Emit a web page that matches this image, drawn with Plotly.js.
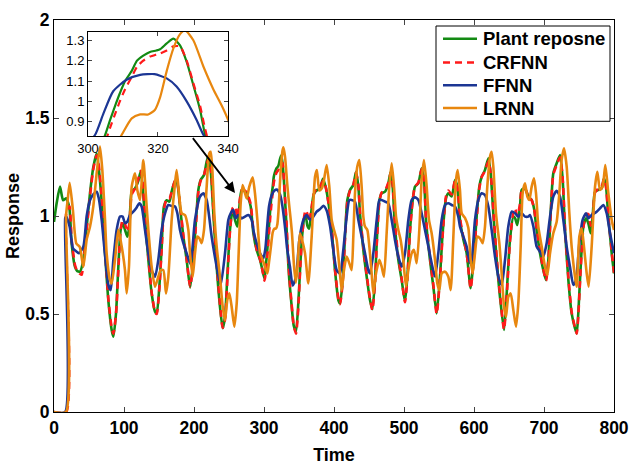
<!DOCTYPE html>
<html><head><meta charset="utf-8">
<script src="https://cdn.plot.ly/plotly-3.0.1.min.js"></script>
<style>html,body{margin:0;padding:0;background:#fff}#chart{width:633px;height:465px}</style>
</head><body><div id="chart"></div>
<script>
// Plant response (green)
const G_T = [0,4,8.6,13,17.6,22,25.2,30,33,37,41.9,46.7,51.4,56.2,61,64,68,72.9,77.6,82.4,84.8,88.6,91.9,95.2,98,101.4,104.8,107.6,111,115.7,120.5,123.8,126.7,130,134.8,139.5,144.3,146.7,150.5,153.8,157,161,164.8,168,172.9,176,180,184.8,189.5,194.5,199,202.9,206.2,209.5,214.3,218,220.5,223.8,227.6,232.4,237.1,241,244.3,247.6,251.4,255.2,258.6,261.9,265.7,268.1,272.9,277.6,281,284.8,289.5,294.3,298,300.8,303,304.9,306.3,308,309.1,310.6,312.5,314,315.8,317.7,319.5,320.6,322.5,324.4,326.3,328.2,330.1,332,333.4,336,339.5,342.5,345.7,349,352,354.5,357.5,359.5,362,364.5,367.5,371,375,380,384.2,388,392,396.7,401.4,406.2,408.6,412.4,415.7,419,422.9,427.6,431.4,434.8,437.1,441.9,446.7,451.4,454.8,458.6,461,464.8,468.1,472.9,477.6,481,483.8,487.1,491.9,496.7,501.4,504.8,508.6,512.4,515.7,520.5,525.2,528.6,531.4,537.1,541.9,546.7,551.4,555.2,560,563.3,568.1,572.9,576.2,580,584.8,589.5,595.2,599,603.8,607.6,611,615.7,620.5,623.8,627.6,632.4,637.1,642.9,646.7,651.4,656.2,658.6,661.9,665.7,668.1,672.9,677.6,682.4,685.7,689.5,694.3,699,702.9,706.2,709.5,713.3,718.1,722.9,726.7,730,734.8,739.5,744.3,746.7,749,752.4,756.2,760,763.3,766.7,769.5,772.9,777.6,782.4,785.7,788.6,791.9,796.7,800];
const G_V = [0.97,1.07,1.15,1.08,1.09,1.04,0.86,0.74,0.72,0.716,0.776,0.945,1.116,1.25,1.32,1.24,1.08,0.81,0.571,0.418,0.384,0.503,0.741,0.929,0.963,0.93,0.895,0.945,1.124,1.14,1.18,1.226,1.15,0.98,0.776,0.605,0.512,0.503,0.64,0.84,1.048,1.08,1.073,1.124,1.18,1.167,1.048,0.895,0.776,0.635,0.776,0.98,1.133,1.184,1.209,1.277,1.306,1.235,1.014,0.741,0.537,0.427,0.486,0.69,0.929,1.031,0.98,0.946,1.082,1.133,1.124,1.09,1.048,0.912,0.827,0.776,0.72,0.68,0.76,0.835,0.908,0.99,1.04,1.1,1.15,1.2,1.225,1.243,1.25,1.256,1.285,1.308,1.275,1.194,1.08,0.96,0.84,0.68,0.54,0.44,0.41,0.554,0.76,0.9,0.99,1.0,0.95,0.935,1.02,1.11,1.13,1.14,1.19,1.15,1.07,0.93,0.724,0.571,0.554,0.673,0.895,1.08,1.133,1.158,1.226,1.15,1.014,0.827,0.69,0.571,0.524,0.673,0.86,1.08,1.116,1.124,1.167,1.226,1.15,0.946,0.776,0.673,0.563,0.69,0.929,1.08,1.15,1.167,1.243,1.184,0.98,0.776,0.64,0.503,0.69,0.912,1.09,1.116,1.1,1.184,1.15,0.98,0.88,0.81,0.631,0.758,0.997,1.15,1.2,1.235,1.294,1.218,1.014,0.776,0.588,0.418,0.605,0.878,0.997,0.99,0.954,1.048,1.133,1.141,1.099,1.082,1.039,0.929,0.81,0.724,0.673,0.776,1.014,1.218,1.269,1.311,1.184,0.929,0.673,0.503,0.427,0.401,0.503,0.741,0.946,0.988,0.963,0.912,0.997,1.124,1.133,1.141,1.192,1.15,0.997,0.81,0.707];

// CRFNN (red dashed)
const R_T = [0,17.4,17.6,22,25.2,30,33,37,39.5,41.9,46.7,51.4,56.2,61,64,68,72.9,77.6,82.4,84.8,88.6,91.9,95.2,98,101.4,104.8,107.6,111,115.7,120.5,123.8,126.7,130,134.8,139.5,144.3,146.7,150.5,153.8,157,161,164.8,168,172.9,176,180,184.8,189.5,194.5,199,202.9,206.2,209.5,214.3,218,220.5,223.8,227.6,232.4,237.1,241,244.3,247.6,251.4,255.2,258.6,261.9,265.7,268.1,272.9,277.6,281,284.8,289.5,294.3,298,300.8,303,304.9,306.3,308,309.1,310.6,312.5,314,315.8,317.7,319.5,320.6,322.5,324.4,326.3,328.2,330.1,332,333.4,336,339.5,342.5,345.7,349,352,354.5,357.5,359.5,362,364.5,367.5,371,375,380,384.2,388,392,396.7,401.4,406.2,408.6,412.4,415.7,419,422.9,427.6,431.4,434.8,437.1,441.9,446.7,451.4,454.8,458.6,461,464.8,468.1,472.9,477.6,481,483.8,487.1,491.9,496.7,501.4,504.8,508.6,512.4,515.7,520.5,525.2,528.6,531.4,537.1,541.9,546.7,551.4,555.2,560,563.3,568.1,572.9,576.2,580,584.8,589.5,595.2,599,603.8,607.6,611,615.7,620.5,623.8,627.6,632.4,637.1,642.9,646.7,651.4,656.2,658.6,661.9,665.7,668.1,672.9,677.6,682.4,685.7,689.5,694.3,699,702.9,706.2,709.5,713.3,718.1,722.9,726.7,730,734.8,739.5,744.3,746.7,749,752.4,756.2,760,763.3,766.7,769.5,772.9,777.6,782.4,785.7,788.6,791.9,796.7,800];
const R_V = [0,0,1.02,1.05,0.88,0.75,0.72,0.705,0.70,0.76,0.93,1.10,1.24,1.31,1.26,1.10,0.83,0.58,0.43,0.40,0.50,0.72,0.93,0.98,0.96,0.92,0.96,1.11,1.14,1.19,1.23,1.17,0.99,0.79,0.61,0.51,0.50,0.63,0.83,1.03,1.09,1.09,1.12,1.18,1.17,1.06,0.90,0.78,0.64,0.76,0.96,1.12,1.18,1.21,1.26,1.29,1.25,1.04,0.76,0.55,0.43,0.47,0.67,0.92,1.04,1.05,0.99,1.09,1.13,1.13,1.10,1.06,0.93,0.83,0.78,0.72,0.67,0.73,0.80,0.87,0.95,1.0,1.06,1.12,1.17,1.20,1.22,1.23,1.235,1.25,1.27,1.27,1.20,1.09,0.98,0.87,0.70,0.55,0.44,0.40,0.53,0.75,0.90,1.0,1.03,1.01,0.97,1.03,1.11,1.14,1.15,1.18,1.15,1.07,0.94,0.73,0.58,0.55,0.66,0.88,1.07,1.13,1.16,1.22,1.16,1.02,0.84,0.70,0.58,0.52,0.66,0.85,1.07,1.12,1.13,1.17,1.22,1.16,0.96,0.79,0.68,0.56,0.68,0.92,1.08,1.15,1.17,1.24,1.19,0.99,0.79,0.65,0.50,0.68,0.90,1.10,1.13,1.11,1.18,1.15,0.99,0.89,0.81,0.63,0.75,0.98,1.14,1.20,1.23,1.28,1.22,1.03,0.79,0.60,0.42,0.59,0.87,1.02,1.04,1.00,1.06,1.13,1.14,1.10,1.08,1.04,0.94,0.82,0.73,0.67,0.77,1.0,1.21,1.26,1.30,1.19,0.94,0.69,0.51,0.43,0.40,0.49,0.73,0.94,1.01,1.01,0.95,1.0,1.12,1.14,1.15,1.19,1.15,1.0,0.82,0.71];

// FFNN (blue)
const B_T = [0,15.9,16.1,17.6,22.4,27.1,32.4,35.7,41.9,46.7,51.4,56.2,61,64,68.1,72.9,77.6,81,84.8,89.5,94.3,98.1,101.4,104.8,108.6,113.3,118.1,121.9,125.2,130,134.8,139.5,144.3,149,153.8,158.6,163.3,168.1,172.9,176.2,180,184.8,189.5,195,201.4,208.6,213.3,218.1,225.2,232.4,238.1,244.3,249,252.4,256.2,259.5,263.3,268.1,272.9,277.6,282.4,285.7,289.5,294.3,299,302,304.4,307.2,311,314.9,319,322.5,325.3,328.2,331,333,337.1,341,345.7,350.5,356.2,361,365.7,370.5,375.2,380,384.8,389.5,394.3,399,403.8,408.6,413.3,418.1,421.9,425.2,430,434.8,439.5,444.3,449,451.4,456.2,461,464.8,468.1,472.9,477.6,482.4,487.1,491.9,496.7,501.4,506.2,511,515.7,520.5,525.2,530,534.8,539.5,544.3,549,553.8,558.6,563.3,568.1,572.9,577.6,580,584.8,589.5,594.3,596.7,601.4,606.2,611,615.7,620.5,625.2,630,634.8,639.5,644.3,649,653.8,658.6,663.3,668.1,672.9,677.6,680,684.8,689.5,694.3,699,703.8,708.6,713.3,718.1,722.9,727.6,732.4,737.1,741.9,745.7,750.5,755.2,760,763.3,768.1,775.2,780,784.8,789.5,794.3,800];
const B_V = [0,0,0.99,0.996,0.945,0.835,0.818,0.81,0.843,1.0,1.08,1.11,1.124,1.09,0.98,0.80,0.65,0.622,0.776,0.929,0.997,0.997,0.963,0.971,1.005,1.022,1.044,1.065,1.048,0.929,0.81,0.724,0.69,0.776,0.929,1.014,1.056,1.051,1.048,1.014,0.929,0.861,0.81,0.755,0.98,1.099,1.116,1.082,0.895,0.741,0.648,0.81,0.98,1.014,1.031,0.988,1.005,0.988,0.997,1.005,0.98,0.912,0.861,0.81,0.784,0.835,0.94,1.05,1.106,1.13,1.134,1.113,1.073,1.0,0.91,0.835,0.741,0.645,0.69,0.878,0.98,1.005,0.98,0.997,1.022,1.035,1.052,1.028,0.95,0.827,0.724,0.707,0.827,0.997,1.082,1.082,1.073,0.98,0.895,0.81,0.724,0.707,0.81,0.98,1.082,1.082,1.073,1.065,0.98,0.878,0.793,0.741,0.81,0.98,1.082,1.095,1.082,1.014,0.929,0.844,0.759,0.69,0.81,0.98,1.056,1.065,1.056,1.048,0.997,0.946,0.895,0.844,0.759,0.776,0.98,1.082,1.116,1.107,1.048,0.929,0.793,0.69,0.648,0.776,0.946,1.022,1.014,0.997,1.014,0.997,0.997,1.005,0.946,0.844,0.818,0.793,0.861,0.997,1.099,1.128,1.099,0.98,0.844,0.741,0.648,0.673,0.861,0.98,1.014,0.988,1.005,1.022,1.039,1.056,1.014,0.912,0.81];

// LRNN (orange)
const O_T = [0,17,17.2,19.5,22.4,27,31.9,36.7,41.9,46.7,51.4,56.2,61,65.7,69,72.9,75.2,80,82.4,87.1,91.9,96.7,101.4,103.8,107.1,111,115.7,119,122.9,127.6,131.4,134.8,139.5,144.3,149,152.4,156.2,160,163.3,168.1,172.9,175.2,179,182.4,187.1,191.9,194.3,198.1,201.4,204.8,207.6,210.9,214.3,218.1,221.9,223.8,226.2,229,232.4,237.1,241,244.3,247.6,250.5,253.8,257.6,261,263.8,266.7,269.5,272.9,275.2,279,283.8,287.1,290.5,294.3,298.1,301.4,304.8,307,309.6,312.5,314.9,317.2,319.1,320.6,322.5,324.4,326.3,327.7,330.1,333,335.8,338.2,340,343,345.5,348,351.4,355,358.6,363.3,368.1,372.9,375.5,379,382.4,385,389.5,393.3,396.7,400,403.8,407.6,411,414.3,418.1,421.9,425.2,427.6,430,433.3,436.2,439.5,441.9,444.3,447.6,450.5,453.8,456.2,460,464.8,468.1,471.4,475.2,479,482.4,485.7,488.6,491.9,495.2,499,502.9,506.2,511,514.3,518.1,521.9,525.2,528.6,532.4,535.7,539.5,544.3,547.6,550.5,553.8,558.6,563.3,566.7,570.5,574.3,576.7,580,582.4,587.1,591.9,595.2,598.1,601.4,604.8,608.6,612.4,615.7,619,622.9,625.2,627.6,631.4,636.2,639.5,642.9,645.7,649,652.4,656.2,660,663.3,666.7,669.5,672.9,676.2,679,682.4,685.7,688.6,691.9,696.7,701.4,704.8,708.6,713.3,718.1,721.9,725.2,728.6,732.4,736.2,739.5,744.3,746.7,750.5,753.8,757.1,761,763.8,768.1,772.9,776.2,780,783.8,787.6,791.9,796.7,800];
const O_V = [0,0,1.0,1.08,1.17,1.03,0.86,0.843,0.74,0.88,0.945,1.05,1.22,1.354,1.235,0.98,0.81,0.673,0.656,0.776,0.929,0.844,0.724,0.605,0.741,1.15,1.218,1.133,1.082,1.286,1.099,0.929,0.741,0.639,0.69,0.724,0.724,0.605,0.69,0.98,1.167,1.235,1.099,1.014,1.005,0.929,0.81,0.69,0.81,0.895,0.886,0.861,0.929,1.15,1.32,1.328,1.235,1.014,0.844,0.69,0.537,0.469,0.571,0.605,0.537,0.435,0.554,0.81,1.065,1.158,1.116,1.09,1.15,1.197,1.116,0.98,0.81,0.776,0.741,0.707,0.76,0.835,0.917,0.936,0.936,0.958,1.02,1.15,1.26,1.33,1.35,1.30,1.17,1.06,0.98,0.91,0.74,0.66,0.75,0.912,0.87,0.81,0.656,0.895,1.2,1.235,1.13,1.14,1.17,1.26,1.15,0.98,0.929,0.878,0.741,0.622,0.724,0.793,0.759,0.724,0.895,1.116,1.252,1.286,1.15,0.997,0.946,0.929,0.844,0.707,0.605,0.707,0.776,0.741,0.69,0.912,1.15,1.269,1.15,0.997,0.929,0.878,0.776,0.639,0.724,0.81,0.827,0.759,0.929,1.184,1.286,1.15,0.98,0.912,0.776,0.656,0.622,0.707,0.716,0.69,0.622,0.895,1.184,1.235,1.13,1.014,0.99,0.94,0.776,0.707,0.81,0.895,0.886,0.861,0.946,1.15,1.303,1.328,1.252,1.014,0.861,0.707,0.537,0.486,0.588,0.605,0.52,0.435,0.554,0.844,1.116,1.167,1.099,1.082,1.15,1.192,1.116,0.946,0.844,0.741,0.699,0.81,0.912,0.971,1.116,1.286,1.345,1.252,1.014,0.844,0.69,0.639,0.895,0.937,0.844,0.707,0.639,0.844,1.15,1.226,1.133,1.15,1.26,1.116,0.98,0.929];

const NAMES = ['Plant reposne','CRFNN','FFNN','LRNN'];
const COLORS = ['#138a13','#ff1a1a','#1c3694','#e8870f'];
const DASHES = ['solid','7px,5px','solid','solid'];
const SERIES = [[G_T,G_V],[R_T,R_V],[B_T,B_V],[O_T,O_V]];

const traces = [];
SERIES.forEach((s,i)=>{
  traces.push({x: s[0], y: s[1], type: 'scatter', mode: 'lines', name: NAMES[i], showlegend: false,
    line: {color: COLORS[i], width: 2.6, shape: 'spline', smoothing: 0.6, dash: DASHES[i]}, xaxis: 'x', yaxis: 'y'});
});
SERIES.forEach((s,i)=>{
  traces.push({x: s[0], y: s[1], type: 'scatter', mode: 'lines', name: NAMES[i], showlegend: false,
    line: {color: COLORS[i], width: 2.2, shape: 'spline', smoothing: 0.6, dash: DASHES[i]}, xaxis: 'x2', yaxis: 'y2'});
});

const F = 'Liberation Sans, Arial, sans-serif';
// plot area in px: x 54..614, y 20..412
const px = v => (v - 54) / 560;
const py = v => 1 - (v - 20) / 392;
const ROWS = [38.7, 62.5, 85.3, 108];
const shapes = [{type: 'rect', xref: 'paper', yref: 'paper', x0: px(436), x1: px(610), y0: py(121.3), y1: py(26),
                 line: {color: '#000', width: 1}, fillcolor: '#fff', layer: 'above'}];
const annotations = [];
NAMES.forEach((n,i)=>{
  shapes.push({type: 'line', xref: 'paper', yref: 'paper', x0: px(443), x1: px(477), y0: py(ROWS[i]), y1: py(ROWS[i]),
               line: {color: COLORS[i], width: 2.4, dash: DASHES[i]}, layer: 'above'});
  annotations.push({xref: 'paper', yref: 'paper', x: px(480.5), y: py(ROWS[i]), xanchor: 'left', yanchor: 'middle',
                    text: n, showarrow: false, font: {family: F, size: 18.5, weight: 'bold', color: '#000'}});
});
annotations.push({x: 258.6, y: 1.117, ax: 196.7, ay: 1.405, xref: 'x', yref: 'y', axref: 'x', ayref: 'y',
                  text: '', showarrow: true, arrowhead: 2, arrowsize: 1.2, arrowwidth: 1.8, arrowcolor: '#000'});

const layout = {
  width: 633, height: 465,
  margin: {l: 54, r: 19, t: 20, b: 53},
  paper_bgcolor: '#fff', plot_bgcolor: '#fff',
  font: {family: F, color: '#000'},
  showlegend: false,
  xaxis: {domain: [0,1], range: [0,800], tickvals: [0,100,200,300,400,500,600,700,800], ticks: 'inside', ticklen: 5,
          showline: true, linecolor: '#000', linewidth: 1, mirror: 'ticks', showgrid: false, zeroline: false,
          tickfont: {family: F, size: 17.5, weight: 'bold'},
          title: {text: 'Time', font: {family: F, size: 18, weight: 'bold'}, standoff: 14}},
  yaxis: {domain: [0,1], range: [0,2], tickvals: [0,0.5,1,1.5,2], ticks: 'inside', ticklen: 5,
          showline: true, linecolor: '#000', linewidth: 1, mirror: 'ticks', showgrid: false, zeroline: false,
          tickfont: {family: F, size: 17.5, weight: 'bold'},
          title: {text: 'Response', font: {family: F, size: 18, weight: 'bold'}, standoff: 0}},
  xaxis2: {domain: [0.0607, 0.3107], range: [300,340], anchor: 'y2', tickvals: [300,320,340], ticks: 'inside', ticklen: 4,
           showline: true, linecolor: '#000', linewidth: 1, mirror: 'ticks', showgrid: false, zeroline: false,
           tickfont: {family: F, size: 13}},
  yaxis2: {domain: [0.704, 0.970], range: [0.83, 1.342], anchor: 'x2', tickvals: [0.9,1,1.1,1.2,1.3],
           ticktext: ['0.9','1','1.1','1.2','1.3'], ticks: 'inside', ticklen: 4,
           showline: true, linecolor: '#000', linewidth: 1, mirror: 'ticks', showgrid: false, zeroline: false,
           tickfont: {family: F, size: 13}},
  shapes: shapes,
  annotations: annotations
};
Plotly.newPlot('chart', traces, layout, {displayModeBar: false, staticPlot: true});
</script></body></html>
